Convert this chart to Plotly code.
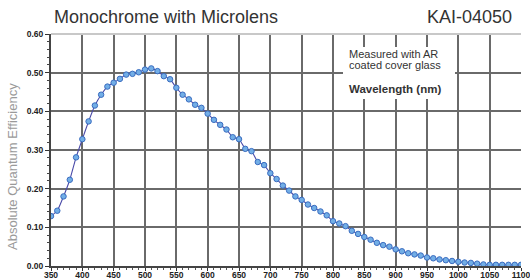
import plotly.graph_objects as go

wavelength_nm = [350, 360, 370, 380, 390, 400, 410, 420, 430, 440,
                 450, 460, 470, 480, 490, 500, 510, 520, 530, 540,
                 550, 560, 570, 580, 590, 600, 610, 620, 630, 640,
                 650, 660, 670, 680, 690, 700, 710, 720, 730, 740,
                 750, 760, 770, 780, 790, 800, 810, 820, 830, 840,
                 850, 860, 870, 880, 890, 900, 910, 920, 930, 940,
                 950, 960, 970, 980, 990, 1000, 1010, 1020, 1030, 1040,
                 1050, 1060, 1070, 1080, 1090, 1100]
quantum_eff = [0.129, 0.143, 0.180, 0.223, 0.281, 0.328, 0.374, 0.415, 0.443, 0.464,
               0.474, 0.484, 0.495, 0.497, 0.501, 0.508, 0.511, 0.504, 0.491, 0.483,
               0.461, 0.443, 0.431, 0.417, 0.409, 0.394, 0.378, 0.365, 0.353, 0.333,
               0.328, 0.303, 0.297, 0.269, 0.261, 0.240, 0.225, 0.208, 0.195, 0.180,
               0.171, 0.159, 0.150, 0.141, 0.131, 0.116, 0.110, 0.103, 0.091, 0.083,
               0.075, 0.068, 0.060, 0.054, 0.050, 0.043, 0.038, 0.033, 0.030, 0.027,
               0.022, 0.020, 0.017, 0.015, 0.013, 0.011, 0.009, 0.008, 0.006, 0.004,
               0.003, 0.003, 0.003, 0.003, 0.003, 0.003]

x_ticks = [350, 400, 450, 500, 550, 600, 650, 700, 750, 800, 850, 900, 950, 1000, 1050, 1100]
y_ticks = [0.0, 0.1, 0.2, 0.3, 0.4, 0.5, 0.6]
y_tick_labels = ["0.00", "0.10", "0.20", "0.30", "0.40", "0.50", "0.60"]

title_left = "Monochrome with Microlens"
title_right = "KAI-04050"
y_title = "Absolute Quantum Efficiency"
note_lines = ["Measured with AR", "coated cover glass"]
note_bold = "Wavelength (nm)"

W, H = 530, 280
L, R, T, B = 51, 9, 34, 14
pw, ph = W - L - R, H - T - B

def px_x(px):
    return (px - L) / pw

def px_y(py):
    return (H - B - py) / ph

FONT = "Liberation Sans, Arial, sans-serif"
GRID = "#6a6a6a"

fig = go.Figure()
fig.add_trace(go.Scatter(
    x=wavelength_nm, y=quantum_eff, mode="lines+markers",
    line=dict(color="#4a4aa8", width=1.1, shape="spline", smoothing=0.5),
    marker=dict(symbol="circle", size=5.5, color="#72aee6",
                line=dict(color="#3a6cc0", width=1)),
    showlegend=False, hoverinfo="skip",
))

fig.update_layout(
    width=W, height=H,
    margin=dict(l=L, r=R, t=T, b=B, autoexpand=False),
    paper_bgcolor="white", plot_bgcolor="white",
    font=dict(family=FONT, color="#333333"),
    xaxis=dict(
        range=[350, 1100], tickvals=x_ticks, ticktext=[str(v) for v in x_ticks],
        showgrid=True, gridcolor=GRID, gridwidth=2,
        showline=True, linecolor="#444444", linewidth=2,
        ticks="outside", ticklen=3, tickcolor="#333333", tickwidth=1,
        minor=dict(dtick=10, tick0=350, ticks="outside", ticklen=2,
                   tickcolor="#555555", showgrid=False),
        tickfont=dict(size=8.5, color="#222222", weight="bold"),
        ticklabelstandoff=-3, ticklabeloverflow="allow",
        zeroline=False, automargin=False, fixedrange=True,
    ),
    yaxis=dict(
        range=[0, 0.6], tickvals=y_ticks, ticktext=y_tick_labels,
        showgrid=True, gridcolor=GRID, gridwidth=2,
        showline=True, linecolor="#444444", linewidth=2,
        ticks="outside", ticklen=4, tickcolor="#333333", tickwidth=1,
        minor=dict(dtick=0.02, tick0=0, ticks="outside", ticklen=2.5,
                   tickcolor="#444444", showgrid=False),
        tickfont=dict(size=8.5, color="#222222", weight="bold"),
        ticklabeloverflow="allow",
        zeroline=False, automargin=False, fixedrange=True,
    ),
    shapes=[
        dict(type="line", xref="paper", yref="paper", x0=0, x1=1, y0=1, y1=1,
             line=dict(color="#c8c8c8", width=2), layer="above"),
        dict(type="rect", xref="paper", yref="paper",
             x0=px_x(343), x1=px_x(455), y0=px_y(99), y1=px_y(47),
             fillcolor="white", line=dict(width=0), layer="above"),
    ],
    annotations=[
        dict(text=title_left, xref="paper", yref="paper", x=px_x(52), y=px_y(17),
             xanchor="left", yanchor="middle", showarrow=False,
             font=dict(size=18, color="#333333", family=FONT)),
        dict(text=title_right, xref="paper", yref="paper", x=px_x(514), y=px_y(17),
             xanchor="right", yanchor="middle", showarrow=False,
             font=dict(size=18, color="#333333", family=FONT)),
        dict(text=y_title, xref="paper", yref="paper", x=px_x(12), y=px_y(167),
             xanchor="center", yanchor="middle", textangle=-90, showarrow=False,
             font=dict(size=13, color="#9a9a9a", family=FONT)),
        dict(text=note_lines[0], xref="paper", yref="paper", x=px_x(347), y=px_y(54),
             xanchor="left", yanchor="middle", showarrow=False,
             font=dict(size=11, color="#333333", family=FONT)),
        dict(text=note_lines[1], xref="paper", yref="paper", x=px_x(347), y=px_y(65),
             xanchor="left", yanchor="middle", showarrow=False,
             font=dict(size=11, color="#333333", family=FONT)),
        dict(text="<b>" + note_bold + "</b>", xref="paper", yref="paper", x=px_x(347), y=px_y(89),
             xanchor="left", yanchor="middle", showarrow=False,
             font=dict(size=11.5, color="#333333", family=FONT)),
    ],
)

fig.write_html(
    "out.html",
    config={"displayModeBar": False},
    post_script="document.body.style.margin='0';document.body.style.overflow='hidden';",
)
